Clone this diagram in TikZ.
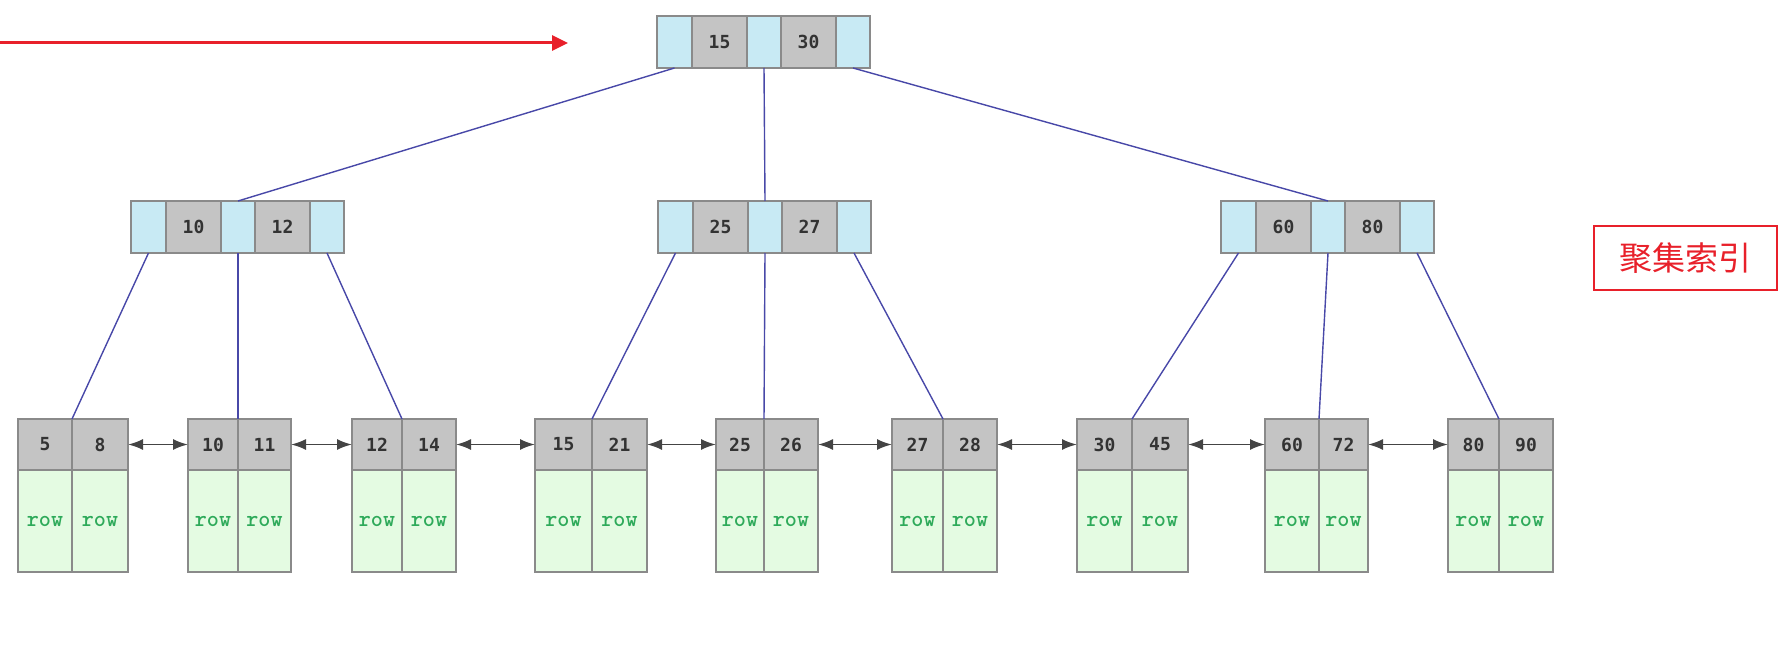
\documentclass[tikz,border=0pt]{standalone}
\usepackage{fontspec}
\newfontfamily\keyfont{DejaVu Sans Mono}
\newfontfamily\cjk{Noto Sans CJK SC}
\usetikzlibrary{arrows.meta}
\definecolor{cellblue}{HTML}{C8EAF4}
\definecolor{cellgray}{HTML}{C4C4C4}
\definecolor{cellline}{HTML}{8A8A8A}
\definecolor{rowgreen}{HTML}{E4FBE2}
\definecolor{rowtext}{HTML}{2EAA5A}
\definecolor{edgeblue}{HTML}{4848A8}
\definecolor{keytext}{HTML}{333333}
\definecolor{linkgray}{HTML}{444444}
\definecolor{labelred}{HTML}{E8202A}
\tikzset{
  ptr/.style={draw=cellline, line width=1.2pt, fill=cellblue, inner sep=0pt, outer sep=0pt, anchor=north west, minimum height=52pt},
  keycell/.style={draw=cellline, line width=1.2pt, fill=cellgray, inner sep=0pt, outer sep=0pt, anchor=north west, minimum height=52pt, minimum width=55pt, font=\keyfont\bfseries\fontsize{18}{18}\selectfont, text=keytext},
  leafkey/.style={keycell, minimum height=51pt},
  rowcell/.style={draw=cellline, line width=1.2pt, fill=rowgreen, inner sep=0pt, outer sep=0pt, anchor=north west, minimum height=102pt, font=\ttfamily\bfseries\fontsize{23}{23}\selectfont, text=rowtext},
  edge/.style={draw=edgeblue, line width=1.4pt},
  leaflink/.style={draw=linkgray, line width=1.8pt, {Latex[length=15pt,width=11pt]}-{Latex[length=15pt,width=11pt]}},
  redarrow/.style={draw=labelred, line width=3pt, -{Triangle[length=16pt,width=15pt]}},
  redlabel/.style={draw=labelred, line width=1.5pt, anchor=north west, minimum width=183pt, minimum height=64pt, inner sep=0pt, text=labelred, font=\cjk\fontsize{33}{33}\selectfont}
}
\newcommand\inode[5]{%
  \node[ptr, minimum width=35pt] (#1-p1) at (#2,#3) {};
  \node[keycell] (#1-k1) at (#1-p1.north east) {#4};
  \node[ptr, minimum width=34pt] (#1-p2) at (#1-k1.north east) {};
  \node[keycell] (#1-k2) at (#1-p2.north east) {#5};
  \node[ptr, minimum width=34pt] (#1-p3) at (#1-k2.north east) {};
}
\newcommand\leafnode[6]{%
  \node[leafkey, minimum width=#3pt] (#1-k1) at (#2,419) {#5};
  \node[leafkey, minimum width=#4pt] (#1-k2) at (#1-k1.north east) {#6};
  \node[rowcell, minimum width=#3pt] (#1-r1) at (#1-k1.south west) {row};
  \node[rowcell, minimum width=#4pt] (#1-r2) at (#1-r1.north east) {row};
}
\begin{document}
\begin{tikzpicture}[x=1pt,y=-1pt]
\useasboundingbox (0,0) rectangle (1788,650);
% internal nodes
\inode{root}{657}{16}{15}{30}
\inode{L}{131}{201}{10}{12}
\inode{M}{658}{201}{25}{27}
\inode{R}{1221}{201}{60}{80}
% leaves
\leafnode{A}{18}{54}{56}{5}{8}
\leafnode{B}{188}{50}{53}{10}{11}
\leafnode{C}{352}{50}{54}{12}{14}
\leafnode{D}{535}{57}{55}{15}{21}
\leafnode{E}{716}{48}{54}{25}{26}
\leafnode{F}{892}{51}{54}{27}{28}
\leafnode{G}{1077}{55}{56}{30}{45}
\leafnode{H}{1265}{54}{49}{60}{72}
\leafnode{I}{1448}{51}{54}{80}{90}
% tree edges
\draw[edge] (root-p1.south) -- (L-p2.north);
\draw[edge] (root-p2.south) -- (M-p2.north);
\draw[edge] (root-p3.south) -- (R-p2.north);
\draw[edge] (L-p1.south) -- (A-k1.north east);
\draw[edge] (L-p2.south) -- (B-k1.north east);
\draw[edge] (L-p3.south) -- (C-k1.north east);
\draw[edge] (M-p1.south) -- (D-k1.north east);
\draw[edge] (M-p2.south) -- (E-k1.north east);
\draw[edge] (M-p3.south) -- (F-k1.north east);
\draw[edge] (R-p1.south) -- (G-k1.north east);
\draw[edge] (R-p2.south) -- (H-k1.north east);
\draw[edge] (R-p3.south) -- (I-k1.north east);
% leaf links
\draw[leaflink] (A-k2.east) -- (B-k1.west);
\draw[leaflink] (B-k2.east) -- (C-k1.west);
\draw[leaflink] (C-k2.east) -- (D-k1.west);
\draw[leaflink] (D-k2.east) -- (E-k1.west);
\draw[leaflink] (E-k2.east) -- (F-k1.west);
\draw[leaflink] (F-k2.east) -- (G-k1.west);
\draw[leaflink] (G-k2.east) -- (H-k1.west);
\draw[leaflink] (H-k2.east) -- (I-k1.west);
% red arrow and label
\coordinate (redstart) at (0,43);
\coordinate (redend) at (568,43);
\draw[redarrow] (redstart) -- (redend);
\node[redlabel] (label) at (1593,225) {聚集索引};
\end{tikzpicture}
\end{document}
